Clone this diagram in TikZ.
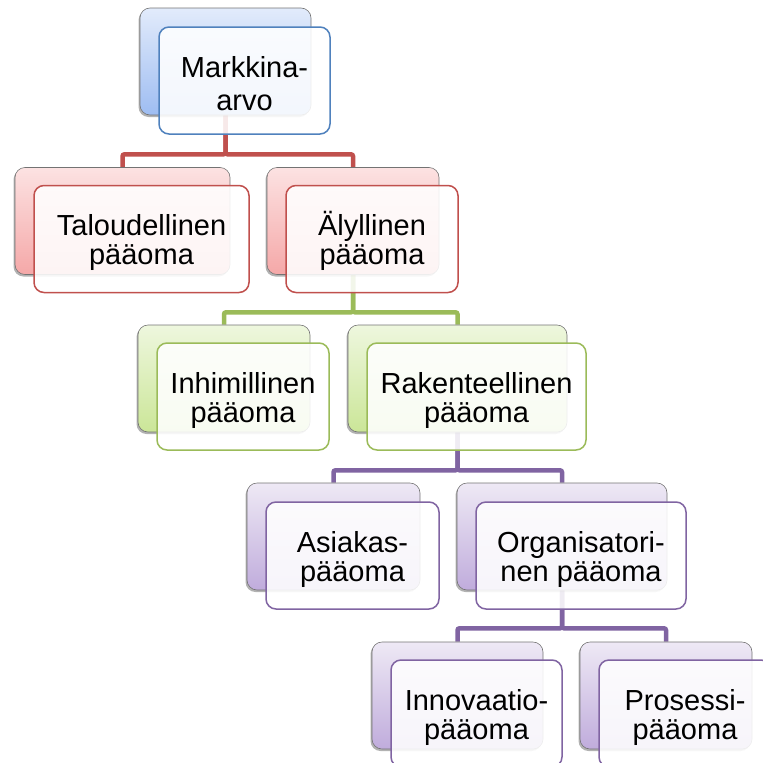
\documentclass[tikz,border=0pt]{standalone}
\usepackage{fontspec}
\setmainfont{Liberation Sans}
\usetikzlibrary{shadows}
\pgfdeclarelayer{bg}
\pgfsetlayers{bg,main}
\definecolor{blueL}{RGB}{79,129,189}
\definecolor{redL}{RGB}{192,80,77}
\definecolor{greenL}{RGB}{155,187,89}
\definecolor{purpleL}{RGB}{128,100,162}
\definecolor{blueT}{RGB}{226,235,251}
\definecolor{blueD}{RGB}{158,189,242}
\definecolor{redT}{RGB}{252,226,226}
\definecolor{redD}{RGB}{245,168,168}
\definecolor{greenT}{RGB}{238,247,222}
\definecolor{greenD}{RGB}{203,230,152}
\definecolor{purpleT}{RGB}{238,233,245}
\definecolor{purpleD}{RGB}{192,172,220}
\tikzset{
  backbox/.style={draw=black!55, line width=0.6pt, rounded corners=10pt,
    minimum height=107pt, inner sep=0pt,
    drop shadow={shadow xshift=-1.5pt, shadow yshift=-2pt, opacity=0.3, fill=black}},
  bblue/.style={backbox, top color=blueT, bottom color=blueD},
  bred/.style={backbox, top color=redT, bottom color=redD},
  bgreen/.style={backbox, top color=greenT, bottom color=greenD},
  bpurple/.style={backbox, top color=purpleT, bottom color=purpleD},
  frontbox/.style={fill=white, fill opacity=0.88, text opacity=1, line width=1.5pt,
    rounded corners=10pt, minimum height=107pt, inner sep=0pt, align=center,
    text height=59pt, text depth=8pt,
    font=\fontsize{29}{29}\selectfont},
  widelines/.style={font=\fontsize{29}{33}\selectfont, text height=68pt, text depth=8pt},
  conn/.style={line width=4.5pt, rounded corners=2pt},
}
\begin{document}
\begin{tikzpicture}[x=1pt, y=-1pt]
\useasboundingbox (0,0) rectangle (763,763);
\clip (0,0) rectangle (763,763);
% back boxes
\node[bblue,   minimum width=171pt] (mb)  at (225.5,61.5) {};
\node[bred,    minimum width=215pt] (tb)  at (122.5,221) {};
\node[bred,    minimum width=172pt] (ab)  at (353,221) {};
\node[bgreen,  minimum width=172pt] (ib)  at (224,378.5) {};
\node[bgreen,  minimum width=219pt] (rb)  at (457.5,378.5) {};
\node[bpurple, minimum width=173pt] (sb)  at (333.5,536.5) {};
\node[bpurple, minimum width=210pt] (ob)  at (562,536.5) {};
\node[bpurple, minimum width=171pt] (nb)  at (457.5,695.5) {};
\node[bpurple, minimum width=172pt] (pb)  at (666,695.5) {};
% front boxes
\node[frontbox, widelines, draw=blueL, minimum width=171pt] (m)  at (244.5,80.5) {Markkina-\\arvo};
\node[frontbox, draw=redL,    minimum width=215pt] (t)  at (141.5,239) {Taloudellinen\\pääoma};
\node[frontbox, draw=redL,    minimum width=172pt] (a)  at (372,239) {Älyllinen\\pääoma};
\node[frontbox, draw=greenL,  minimum width=172pt] (i)  at (243,396.5) {Inhimillinen\\pääoma};
\node[frontbox, draw=greenL,  minimum width=219pt] (r)  at (476.5,396.5) {Rakenteellinen\\pääoma};
\node[frontbox, draw=purpleL, minimum width=173pt] (s)  at (352.5,555.5) {Asiakas-\\pääoma};
\node[frontbox, draw=purpleL, minimum width=210pt] (o)  at (581,555.5) {Organisatori-\\nen pääoma};
\node[frontbox, draw=purpleL, minimum width=171pt] (n)  at (476.5,713.5) {Innovaatio-\\pääoma};
\node[frontbox, draw=purpleL, minimum width=172pt] (p)  at (685,713.5) {Prosessi-\\pääoma};
% connectors
\begin{pgfonlayer}{bg}
\draw[conn, redL] (mb.south) -- ++(0,39) -| (tb.north);
\draw[conn, redL] (mb.south) -- ++(0,39) -| (ab.north);
\draw[conn, greenL] (ab.south) -- ++(0,37.5) -| (ib.north);
\draw[conn, greenL] (ab.south) -- ++(0,37.5) -| (rb.north);
\draw[conn, purpleL] (rb.south) -- ++(0,38) -| (sb.north);
\draw[conn, purpleL] (rb.south) -- ++(0,38) -| (ob.north);
\draw[conn, purpleL] (ob.south) -- ++(0,38) -| (nb.north);
\draw[conn, purpleL] (ob.south) -- ++(0,38) -| (pb.north);
\end{pgfonlayer}
\end{tikzpicture}
\end{document}
